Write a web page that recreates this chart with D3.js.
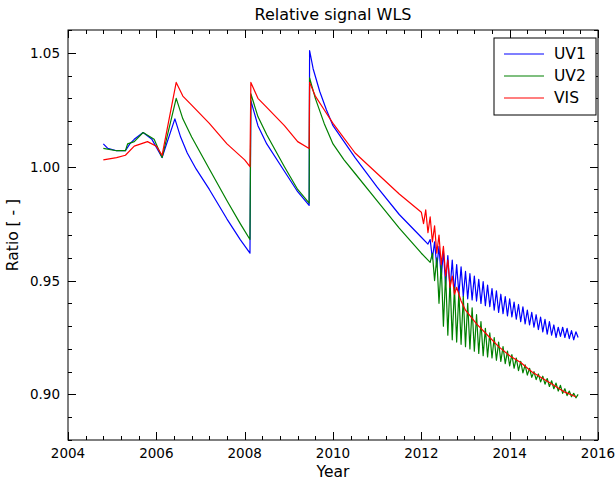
<!DOCTYPE html>
<html><head><meta charset="utf-8">
<script src="https://cdn.jsdelivr.net/npm/d3@7"></script>
<style>body{margin:0;background:#fff;font-family:"DejaVu Sans",sans-serif;}</style>
</head><body><div id="chart"></div>
<script>
// hand-read series: [year, ratio]
var uv1Base = [[2004.8,1.010],[2004.9,1.008],[2005.1,1.007],[2005.3,1.007],[2005.4,1.010],[2005.5,1.012],[2005.7,1.015],
  [2005.9,1.012],[2006.13,1.004],
  [2006.42,1.021],[2006.55,1.013],[2006.7,1.006],[2006.9,0.999],[2007.2,0.990],[2007.6,0.977],[2007.9,0.968],[2008.12,0.962],[2008.14,1.029],
  [2008.3,1.018],[2008.5,1.010],[2008.9,0.998],[2009.2,0.989],[2009.46,0.983],[2009.47,1.051],[2009.55,1.043],[2009.7,1.033],[2009.85,1.025],
  [2010.0,1.018],[2010.25,1.011],[2010.5,1.004],[2011.0,0.991],[2011.5,0.979],[2012.0,0.969],[2012.15,0.966]];
var uv2Base = [[2004.8,1.008],[2005.1,1.007],[2005.3,1.007],[2005.35,1.010],[2005.5,1.011],[2005.7,1.015],[2005.95,1.012],[2006.13,1.004],
  [2006.45,1.030],[2006.6,1.021],[2006.8,1.013],[2007.2,0.999],[2007.6,0.985],[2007.9,0.975],[2008.12,0.968],[2008.14,1.032],
  [2008.3,1.022],[2008.5,1.014],[2008.9,1.000],[2009.2,0.990],[2009.46,0.984],[2009.47,1.039],[2009.6,1.030],[2009.8,1.019],
  [2010.0,1.010],[2010.25,1.003],[2010.5,0.997],[2011.0,0.985],[2011.5,0.973],[2012.0,0.962],[2012.2,0.958]];
var visBase = [[2004.8,1.003],[2005.1,1.004],[2005.3,1.005],[2005.5,1.009],[2005.8,1.011],[2006.0,1.009],[2006.13,1.005],
  [2006.45,1.037],[2006.6,1.031],[2006.8,1.027],[2007.2,1.019],[2007.6,1.010],[2008.0,1.003],[2008.12,1.000],[2008.14,1.037],
  [2008.3,1.030],[2008.5,1.026],[2008.9,1.018],[2009.2,1.011],[2009.46,1.008],[2009.47,1.037],[2009.6,1.031],[2009.8,1.025],
  [2010.0,1.019],[2010.5,1.006],[2011.0,0.997],[2011.5,0.988],[2012.0,0.980]];

// oscillating tail, sampled every 0.05 yr from 2012.20 (uv1) / 2012.25 (uv2)
var uv1Tail = [.968,.9595,.967,.956,.965,.951,.963,.948,.961,.946,.959,.9445,.957,.944,.956,.943,.954,.942,.953,.9415,
  .952,.941,.9505,.940,.9495,.939,.948,.9385,.9465,.937,.9455,.936,.944,.9355,.943,.9345,.942,.934,.9405,.933,
  .9395,.932,.9385,.931,.937,.9305,.936,.9295,.935,.9285,.934,.9275,.933,.9265,.932,.926,.9305,.925,.9295,.9255,
  .9295,.925,.929,.9245,.928,.924,.9275,.925];
var uv2Tail = [.962,.950,.960,.940,.957,.930,.953,.926,.950,.924,.947,.923,.945,.922,.943,.921,.940,.920,.938,.919,
  .935,.918,.932,.917,.929,.9165,.927,.916,.925,.915,.923,.9145,.921,.9135,.919,.9125,.9175,.9115,.916,.9105,
  .9145,.9095,.913,.9085,.9115,.9075,.910,.9065,.909,.9055,.908,.9045,.907,.9035,.906,.9025,.905,.9015,.904,.9005,
  .9025,.8995,.9015,.899,.9005,.8985,.900];
var visTail = [[2012.05,.975],[2012.1,.981],[2012.15,.971],[2012.2,.978],[2012.25,.967],[2012.3,.974],[2012.35,.962],
  [2012.4,.970],[2012.45,.957],[2012.5,.965],[2012.55,.952],[2012.6,.959],[2012.65,.947],[2012.7,.952],[2012.75,.944],
  [2012.8,.947],[2012.9,.941],[2013.0,.937],[2013.25,.931],[2013.5,.926],[2013.75,.921],[2014.0,.917],[2014.25,.914],
  [2014.5,.910],[2014.75,.907],[2015.0,.904],[2015.25,.901],[2015.5,.899]];

var xTicks = [2004, 2006, 2008, 2010, 2012, 2014, 2016];
var yTicks = [0.90, 0.95, 1.00, 1.05];
var seriesNames = ["UV1", "UV2", "VIS"];
var colors = ["#0000ff", "#008000", "#ff0000"];

function tail(start, vals) {
  return vals.map(function(v, i) { return [start + i * 0.05, v]; });
}
var series = [
  uv1Base.concat(tail(2012.20, uv1Tail)),
  uv2Base.concat(tail(2012.25, uv2Tail)),
  visBase.concat(visTail)
];

var W = 615, H = 480;
var margin = { top: 30, right: 17, bottom: 40, left: 68 };
var width = W - margin.left - margin.right, height = H - margin.top - margin.bottom;

var svg = d3.select("#chart").append("svg").attr("width", W).attr("height", H);
var g = svg.append("g").attr("transform", "translate(" + margin.left + "," + margin.top + ")");

var x = d3.scaleLinear().domain([2004, 2016]).range([0, width]);
var y = d3.scaleLinear().domain([0.88, 1.06]).range([height, 0]);

// ticks pointing inward on all four sides
function ticks(axis, vals, len) {
  var tg = g.append("g").attr("stroke", "#000").attr("stroke-width", 1);
  vals.forEach(function(v) {
    if (axis == "x") {
      var px = Math.round(x(v)) + 0.5;
      tg.append("line").attr("x1", px).attr("x2", px).attr("y1", height).attr("y2", height - len);
      tg.append("line").attr("x1", px).attr("x2", px).attr("y1", 0).attr("y2", len);
    } else {
      var py = Math.round(y(v)) + 0.5;
      tg.append("line").attr("y1", py).attr("y2", py).attr("x1", 0).attr("x2", len);
      tg.append("line").attr("y1", py).attr("y2", py).attr("x1", width).attr("x2", width - len);
    }
  });
}
ticks("x", d3.range(2004, 2016.01, 0.4), 4);
ticks("x", xTicks, 8);
ticks("y", d3.range(0.88, 1.0601, 0.01), 4);
ticks("y", yTicks, 8);

var line = d3.line().x(function(d) { return x(d[0]); }).y(function(d) { return y(d[1]); });
series.forEach(function(s, i) {
  g.append("path").datum(s).attr("d", line).attr("fill", "none")
    .attr("stroke", colors[i]).attr("stroke-width", 1.2).attr("stroke-linejoin", "round");
});

g.append("rect").attr("width", width).attr("height", height).attr("fill", "none").attr("stroke", "#000");

g.selectAll(".xl").data(xTicks).enter().append("text")
  .attr("x", function(d) { return x(d); }).attr("y", height + 18)
  .attr("text-anchor", "middle").attr("font-size", 13.5).text(function(d) { return d; });
g.selectAll(".yl").data(yTicks).enter().append("text")
  .attr("x", -8).attr("y", function(d) { return y(d) + 5; })
  .attr("text-anchor", "end").attr("font-size", 13.5).text(function(d) { return d.toFixed(2); });

g.append("text").attr("x", width / 2).attr("y", -10).attr("text-anchor", "middle")
  .attr("font-size", 16).text("Relative signal WLS");
g.append("text").attr("x", width / 2).attr("y", height + 37).attr("text-anchor", "middle")
  .attr("font-size", 15.5).text("Year");
g.append("text").attr("transform", "translate(-50," + height / 2 + ") rotate(-90)")
  .attr("text-anchor", "middle").attr("font-size", 15.5).text("Ratio [ - ]");

// legend
var lg = g.append("g").attr("transform", "translate(" + (width - 104) + ",8)");
lg.append("rect").attr("width", 102).attr("height", 77).attr("fill", "#fff").attr("stroke", "#000");
seriesNames.forEach(function(n, i) {
  var ly = 16 + i * 22;
  lg.append("line").attr("x1", 10).attr("x2", 50).attr("y1", ly).attr("y2", ly)
    .attr("stroke", colors[i]).attr("stroke-width", 1.2);
  lg.append("text").attr("x", 60).attr("y", ly + 5).attr("font-size", 15.5).text(n);
});
</script></body></html>
